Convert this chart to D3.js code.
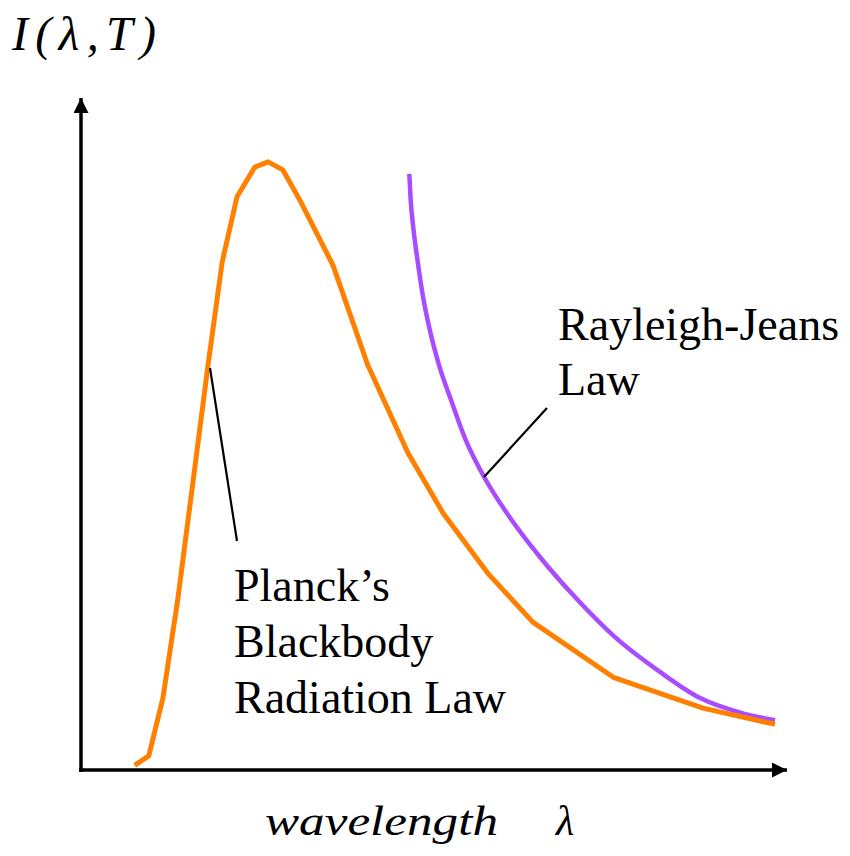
<!DOCTYPE html>
<html>
<head>
<meta charset="utf-8">
<script src="https://cdn.jsdelivr.net/npm/d3@7"></script>
<style>
  html, body { margin: 0; padding: 0; background: #fff; }
  svg { display: block; }
</style>
</head>
<body>
<svg id="chart" width="850" height="856"></svg>
<script>
// Wavelength (arbitrary units, 0–100 along the axis) and intensity (arbitrary units)
const planckWavelength = [7.6, 9.6, 11.6, 13.7, 15.9, 18.0, 20.0, 22.1, 24.6, 26.5, 28.6, 31.0, 35.7, 40.6, 46.3, 51.3, 57.6, 64.0, 75.4, 88.1, 98.3];
const planckIntensity  = [0.7, 2.1, 10.7, 25.3, 43.2, 60.3, 75.6, 85.3, 89.7, 90.5, 89.3, 84.8, 75.1, 60.3, 47.2, 38.2, 29.3, 22.0, 13.8, 9.2, 6.8];

const rjWavelength = [46.5, 46.7, 47.1, 47.7, 48.4, 49.4, 50.7, 52.4, 54.5, 57.1, 60.8, 65.0, 70.0, 75.6, 82.0, 87.7, 93.5, 98.3];
const rjIntensity  = [88.7, 84.8, 80.4, 75.6, 70.7, 65.5, 60.3, 55.1, 49.1, 43.6, 37.5, 31.7, 25.7, 19.8, 14.6, 10.7, 8.5, 7.4];

const xLabel = "wavelength";
const xSymbol = "λ";
const yLabel = "I(λ,T)";
const planckLabel = ["Planck’s", "Blackbody", "Radiation Law"];
const rjLabel = ["Rayleigh-Jeans", "Law"];

const serif = "'Liberation Serif', 'Times New Roman', 'DejaVu Serif', serif";

const svg = d3.select("#chart");

const x = d3.scaleLinear().domain([0, 100]).range([81, 787]);
const y = d3.scaleLinear().domain([0, 100]).range([770, 98]);

// Arrowheads for the axes
const defs = svg.append("defs");
defs.append("marker")
  .attr("id", "arrow")
  .attr("viewBox", "0 0 10 10")
  .attr("refX", 10).attr("refY", 5)
  .attr("markerUnits", "userSpaceOnUse")
  .attr("markerWidth", 15).attr("markerHeight", 15)
  .attr("orient", "auto")
  .append("path")
  .attr("d", "M0,0 L10,5 L0,10 Z")
  .attr("fill", "#000");

// Axes without ticks, drawn through d3.axis
const xAxis = svg.append("g")
  .attr("transform", `translate(0,${y(0)})`)
  .call(d3.axisBottom(x).ticks(0).tickSizeOuter(0));
const yAxis = svg.append("g")
  .attr("transform", `translate(${x(0)},0)`)
  .call(d3.axisLeft(y).ticks(0).tickSizeOuter(0));

[xAxis, yAxis].forEach(g => {
  g.selectAll(".tick").remove();
  g.select(".domain")
    .attr("stroke", "#000")
    .attr("stroke-width", 3.5)
    .attr("marker-end", "url(#arrow)");
});
// Extend the domain so the arrow tip sits at the end of the axis
xAxis.select(".domain").attr("d", `M${x(0) - 2},0H${x(100)}`);
yAxis.select(".domain").attr("d", `M0,${y(0) + 2}V${y(100)}`);

// Rayleigh–Jeans curve (drawn first so the Planck curve overlaps it at long wavelengths)
const rjLine = d3.line()
  .x(d => x(d[0]))
  .y(d => y(d[1]))
  .curve(d3.curveMonotoneX);
svg.append("path")
  .datum(d3.zip(rjWavelength, rjIntensity))
  .attr("d", rjLine)
  .attr("fill", "none")
  .attr("stroke", "#a94cff")
  .attr("stroke-width", 4.5);

// Planck blackbody curve
const planckLine = d3.line()
  .x(d => x(d[0]))
  .y(d => y(d[1]));
svg.append("path")
  .datum(d3.zip(planckWavelength, planckIntensity))
  .attr("d", planckLine)
  .attr("fill", "none")
  .attr("stroke", "#ff8000")
  .attr("stroke-width", 5)
  .attr("stroke-linejoin", "round");

// Leader lines from the labels to the curves
svg.append("line")
  .attr("x1", 210).attr("y1", 368).attr("x2", 237).attr("y2", 541)
  .attr("stroke", "#000").attr("stroke-width", 2.2);
svg.append("line")
  .attr("x1", 484).attr("y1", 477).attr("x2", 547).attr("y2", 408)
  .attr("stroke", "#000").attr("stroke-width", 2.2);

// Curve labels
svg.append("text")
  .attr("font-family", serif)
  .attr("font-size", 46)
  .selectAll("tspan")
  .data(planckLabel)
  .join("tspan")
  .attr("x", 234)
  .attr("y", (d, i) => 601 + i * 56)
  .text(d => d);

svg.append("text")
  .attr("font-family", serif)
  .attr("font-size", 46)
  .selectAll("tspan")
  .data(rjLabel)
  .join("tspan")
  .attr("x", 558)
  .attr("y", (d, i) => 340 + i * 55)
  .text(d => d);

// Axis titles
svg.append("text")
  .attr("font-family", serif)
  .attr("x", 12).attr("y", 50)
  .attr("font-size", 48)
  .attr("font-style", "italic")
  .attr("textLength", 144)
  .attr("lengthAdjust", "spacing")
  .text(yLabel);

svg.append("text")
  .attr("font-family", serif)
  .attr("x", 265).attr("y", 835)
  .attr("font-size", 42)
  .attr("font-style", "italic")
  .attr("textLength", 233)
  .attr("lengthAdjust", "spacingAndGlyphs")
  .text(xLabel);

svg.append("text")
  .attr("font-family", serif)
  .attr("x", 556).attr("y", 835)
  .attr("font-size", 42)
  .attr("font-style", "italic")
  .text(xSymbol);
</script>
</body>
</html>
